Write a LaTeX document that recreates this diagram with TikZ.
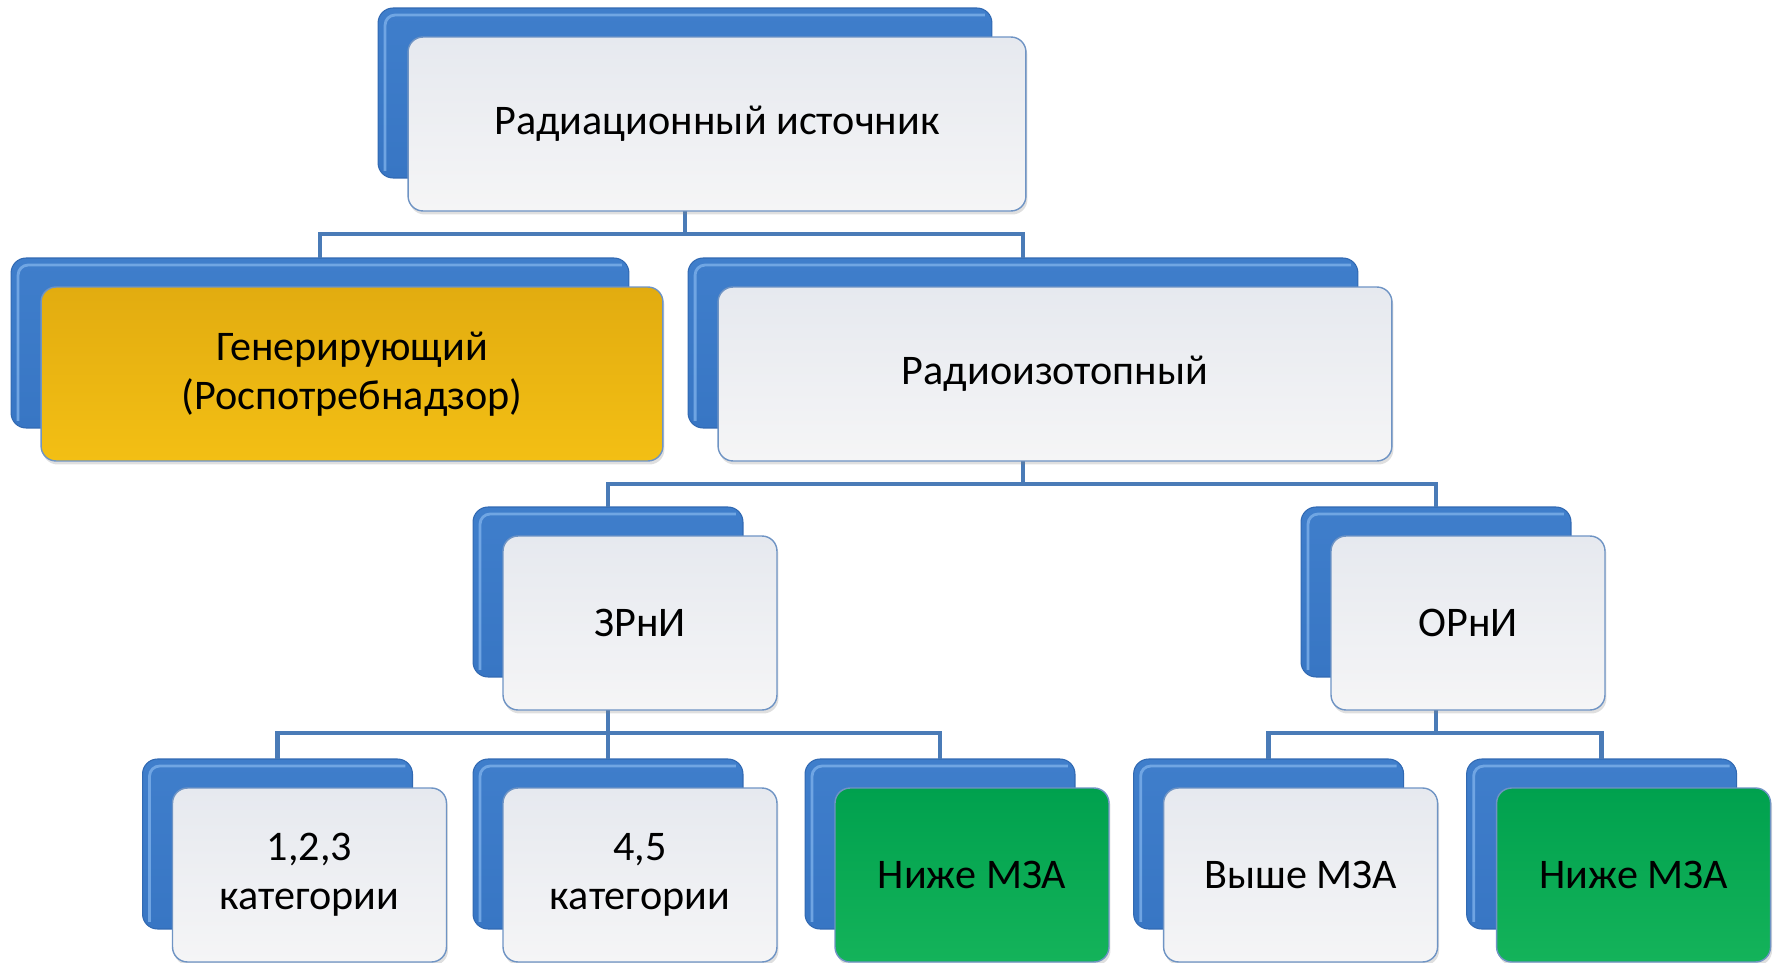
\documentclass[tikz,border=0pt]{standalone}
\usepackage{fontspec}
\setmainfont{Carlito}
\usepackage{xcolor}
\usepackage{tikz}
\usetikzlibrary{calc}
\usetikzlibrary{shadows}
\definecolor{BackTop}{HTML}{3F7ECB}
\definecolor{BackBot}{HTML}{3876C4}
\definecolor{BackEdge}{HTML}{3169B2}
\definecolor{BackGlow}{HTML}{7DB0EA}
\definecolor{FrontTop}{HTML}{E6E9EF}
\definecolor{FrontMid}{HTML}{E8EBF0}
\definecolor{FrontBot}{HTML}{F5F5F6}
\definecolor{FrontEdge}{HTML}{6F94C4}
\definecolor{GoldTop}{HTML}{E2AC10}
\definecolor{GoldBot}{HTML}{F3BF14}
\definecolor{GreenTop}{HTML}{00A14E}
\definecolor{GreenBot}{HTML}{14B35A}
\definecolor{LinkBlue}{HTML}{4A7BB7}
\def\SmallW{5.4cm}
\def\FrontSmallW{5.48cm}
\def\FrontDX{32}
\def\FrontDY{31}
\def\LinkDrop{56}
\tikzset{
	back/.style={rounded corners=0.3cm,top color=BackTop,bottom color=BackBot,draw=BackEdge,line width=0.6pt,minimum height=3.4cm,outer sep=0pt,
		path picture={\draw[BackGlow,line width=1.6pt,rounded corners=0.2cm,opacity=0.8] ([xshift=4pt,yshift=4pt]path picture bounding box.south west) |- ([xshift=-4pt,yshift=-4pt]path picture bounding box.north east);}},
	front/.style={rounded corners=0.3cm,top color=FrontTop,middle color=FrontMid,bottom color=FrontBot,draw=FrontEdge,line width=0.8pt,minimum height=3.48cm,outer sep=0pt,align=center,font=\fontsize{24}{28}\selectfont,drop shadow={shadow xshift=0.03cm,shadow yshift=-0.07cm,opacity=0.25}},
	gold/.style={top color=GoldTop,bottom color=GoldBot},
	green/.style={top color=GreenTop,bottom color=GreenBot},
	link/.style={draw=LinkBlue,line width=2.6pt},
}

\begin{document}
\begin{tikzpicture}[x=0.02cm,y=-0.02cm]
	\useasboundingbox (0,0) rectangle (1776,963);
	% back plates
	\node[back,minimum width=12.28cm] (rootb) at (685,93) {};
	\node[back,minimum width=12.36cm] (genb) at (320,343) {};
	\node[back,minimum width=13.4cm] (isob) at (1023,343) {};
	\node[back,minimum width=\SmallW] (zrnib) at (608,592) {};
	\node[back,minimum width=\SmallW] (ornib) at (1436,592) {};
	\node[back,minimum width=\SmallW] (catab) at (277.5,844) {};
	\node[back,minimum width=\SmallW] (catbb) at (608,844) {};
	\node[back,minimum width=\SmallW] (lowab) at (940,844) {};
	\node[back,minimum width=\SmallW] (highb) at (1268.6,844) {};
	\node[back,minimum width=\SmallW] (lowbb) at (1601.6,844) {};
	% 
	\draw[link] (rootb.south) -- ++(0,\LinkDrop) -| (genb.north);
	\draw[link] (rootb.south) -- ++(0,\LinkDrop) -| (isob.north);
	\draw[link] (isob.south) -- ++(0,\LinkDrop) -| (zrnib.north);
	\draw[link] (isob.south) -- ++(0,\LinkDrop) -| (ornib.north);
	\draw[link] (zrnib.south) -- ++(0,\LinkDrop) -| (catab.north);
	\draw[link] (zrnib.south) -- ++(0,\LinkDrop) -| (catbb.north);
	\draw[link] (zrnib.south) -- ++(0,\LinkDrop) -| (lowab.north);
	\draw[link] (ornib.south) -- ++(0,\LinkDrop) -| (highb.north);
	\draw[link] (ornib.south) -- ++(0,\LinkDrop) -| (lowbb.north);
	% front plates
	\node[front,minimum width=12.36cm] (root) at ($(rootb)+(\FrontDX,\FrontDY)$) {Радиационный источник};
	\node[front,gold,minimum width=12.44cm] (gen) at ($(genb)+(\FrontDX,\FrontDY)$) {Генерирующий\\(Роспотребнадзор)};
	\node[front,minimum width=13.48cm] (iso) at ($(isob)+(\FrontDX,\FrontDY)$) {Радиоизотопный};
	\node[front,minimum width=\FrontSmallW] (zrni) at ($(zrnib)+(\FrontDX,\FrontDY)$) {ЗРнИ};
	\node[front,minimum width=\FrontSmallW] (orni) at ($(ornib)+(\FrontDX,\FrontDY)$) {ОРнИ};
	\node[front,minimum width=\FrontSmallW] (cata) at ($(catab)+(\FrontDX,\FrontDY)$) {1,2,3\\категории};
	\node[front,minimum width=\FrontSmallW] (catb) at ($(catbb)+(\FrontDX,\FrontDY)$) {4,5\\категории};
	\node[front,green,minimum width=\FrontSmallW] (lowa) at ($(lowab)+(\FrontDX,\FrontDY)$) {Ниже МЗА};
	\node[front,minimum width=\FrontSmallW] (high) at ($(highb)+(\FrontDX,\FrontDY)$) {Выше МЗА};
	\node[front,green,minimum width=\FrontSmallW] (lowb) at ($(lowbb)+(\FrontDX,\FrontDY)$) {Ниже МЗА};
\end{tikzpicture}
\end{document}
